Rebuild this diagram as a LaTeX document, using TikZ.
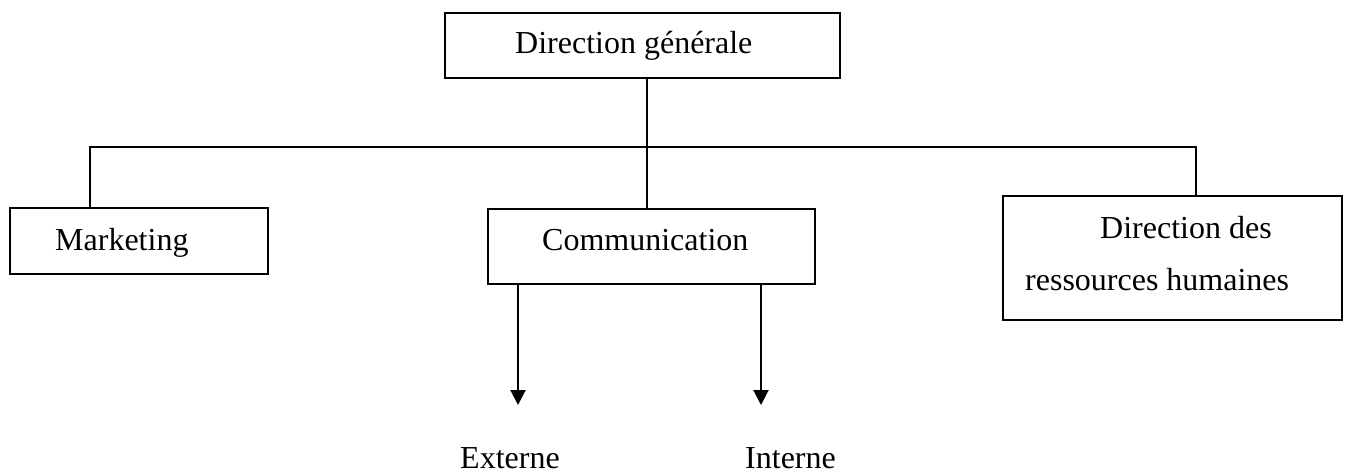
\documentclass[tikz,border=0pt]{standalone}
\usepackage{fontspec}
\setmainfont{Liberation Serif}
\usetikzlibrary{arrows.meta}
\begin{document}
\begin{tikzpicture}[x=1pt,y=-1pt,
  unitbox/.style={draw,line width=2.5pt,inner sep=0,outer sep=0,rectangle},
  conn/.style={line width=1.2pt},
  branch/.style={line width=2pt,-{Triangle[width=15pt,length=15pt]}},
  lbl/.style={anchor=base west,inner sep=0,font=\fontsize{32}{38}\selectfont}]
\useasboundingbox (0,0) rectangle (1346,474);

% boxes
\node[unitbox,minimum width=395pt,minimum height=65pt] (top) at (642.5,45.5) {};
\node[unitbox,minimum width=258pt,minimum height=66pt] (mkt) at (139,241) {};
\node[unitbox,minimum width=327pt,minimum height=75pt] (com) at (651.5,246.5) {};
\node[unitbox,minimum width=339pt,minimum height=124pt] (drh) at (1172.5,258) {};

% box texts
\node[lbl] (ttop) at (515,53) {Direction générale};
\node[lbl] (tmkt) at (55,250) {Marketing};
\node[lbl] (tcom) at (542,250) {Communication};
\node[lbl] (tdrh1) at (1100,238) {Direction des};
\node[lbl] (tdrh2) at (1025,290) {ressources humaines};

% hierarchy lines
\coordinate (hub) at (647,147);
\coordinate (lft) at (90,147);
\coordinate (rgt) at (1196,147);
\draw[conn] (top.south -| hub) -- (com.north -| hub);
\draw[conn] (mkt.north -| lft) -- (lft) -- (rgt) -- (drh.north -| rgt);

% communication branches
\coordinate (extip) at (518,405);
\coordinate (intip) at (761,405);
\draw[branch] (com.south -| extip) -- (extip);
\draw[branch] (com.south -| intip) -- (intip);
\node[lbl] (ext) at (460,468) {Externe};
\node[lbl] (int) at (745,468) {Interne};
\end{tikzpicture}
\end{document}
